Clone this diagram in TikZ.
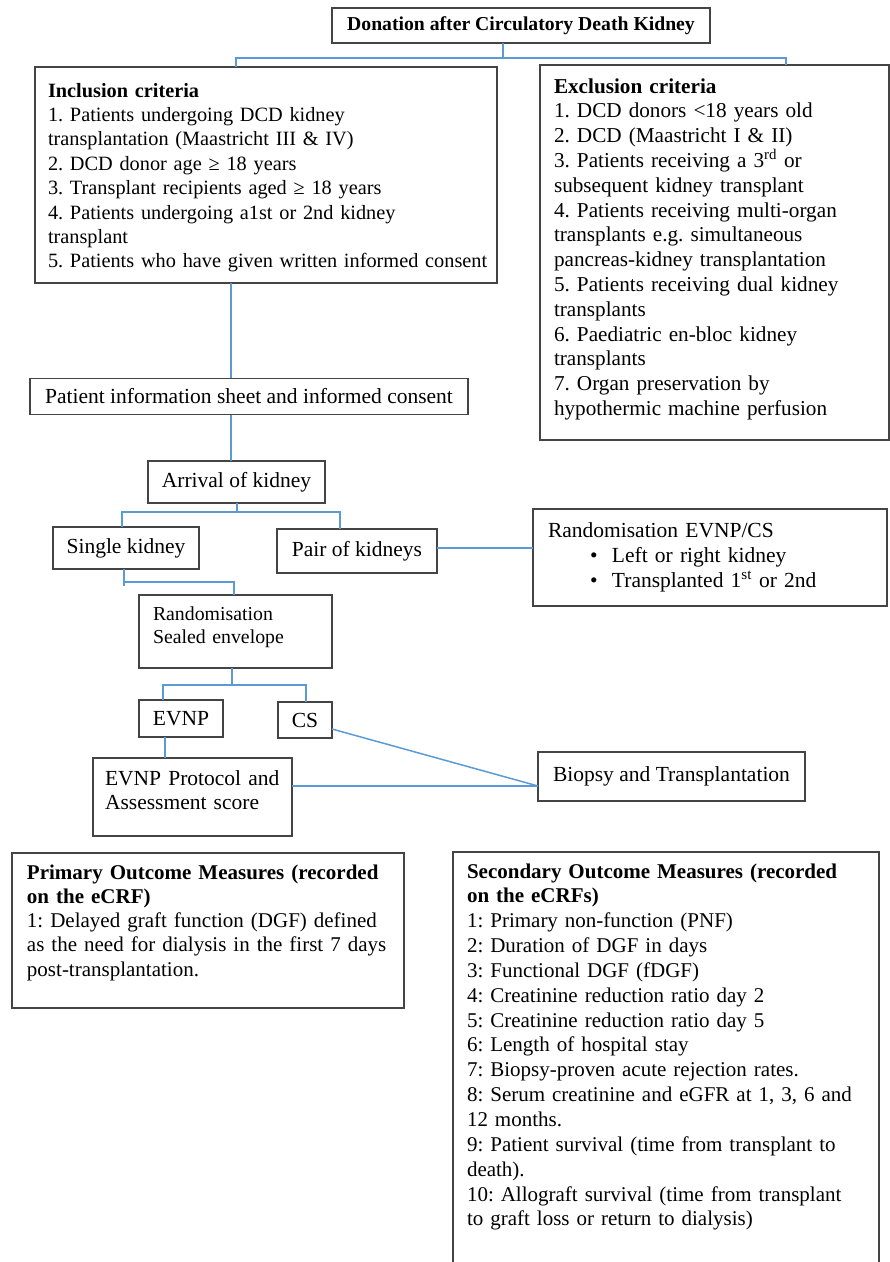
\documentclass[tikz,border=0pt]{standalone}
\usepackage{fontspec}
\setmainfont{Liberation Serif}
\definecolor{boxgray}{RGB}{68,68,68}
\definecolor{linkblue}{RGB}{91,155,213}
\tikzset{box/.style={draw=boxgray,line width=1.3pt,outer sep=0pt,inner ysep=0pt,anchor=north west}}
\tikzset{openbox/.style={box,draw=none}}
\tikzset{onebox/.style={draw=boxgray,line width=1.3pt,outer sep=0pt,inner sep=0pt}}
\tikzset{body/.style={font=\fontsize{21.5}{24.7}\selectfont}}
\tikzset{link/.style={linkblue,line width=1.5pt}}

\begin{document}
\frenchspacing
\begin{tikzpicture}[x=1pt,y=-1pt]
\useasboundingbox (0,0) rectangle (890,1262);

\node [onebox,minimum width=378,minimum height=35,font=\bfseries\fontsize{19.7}{22}\selectfont] (donation) at (521,25.5) {Donation after Circulatory Death Kidney};

\node [box,font=\fontsize{20.3}{24.4}\selectfont,text width=436,inner xsep=13,text height=30,text depth=186] (incl) at (35,67) {\textbf{Inclusion criteria}\\
1. Patients undergoing DCD kidney\\
transplantation (Maastricht III \& IV)\\
2. DCD donor age ≥ 18 years\\
3. Transplant recipients aged ≥ 18 years\\
4. Patients undergoing a1st or 2nd kidney\\
transplant\\
\mbox{5. Patients who have given written informed consent}};

\node [box,font=\fontsize{21.2}{24.8}\selectfont,text width=321,inner xsep=14,text height=28,text depth=347] (excl) at (540,65) {\textbf{Exclusion criteria}\\
1. DCD donors <18 years old\\
2. DCD (Maastricht I \& II)\\
3. Patients receiving a 3\textsuperscript{rd} or\\
subsequent kidney transplant\\
4. Patients receiving multi-organ\\
transplants e.g. simultaneous\\
pancreas-kidney transplantation\\
5. Patients receiving dual kidney\\
transplants\\
6. Paediatric en-bloc kidney\\
transplants\\
7. Organ preservation by\\
hypothermic machine perfusion};

\node [onebox,body,minimum width=438,minimum height=36.5] (patient) at (249,396.5) {Patient information sheet and informed consent};
\node [onebox,body,minimum width=177,minimum height=42] (arrival) at (236.5,482) {Arrival of kidney};
\node [onebox,body,minimum width=146,minimum height=42] (single) at (126,548) {Single kidney};
\node [onebox,body,minimum width=160,minimum height=44] (pair) at (357,551) {Pair of kidneys};

\node [box,font=\fontsize{21.5}{25}\selectfont,text width=324,inner xsep=15,text height=28,text depth=69] (randpair) at (533,509) {Randomisation EVNP/CS\\
\hspace*{42pt}\makebox[22pt][l]{\textbullet}Left or right kidney\\
\hspace*{42pt}\makebox[22pt][l]{\textbullet}Transplanted 1\textsuperscript{st} or 2nd};

\node [box,font=\fontsize{19.8}{23}\selectfont,text width=165,inner xsep=14,text height=25,text depth=48] (rand) at (139,595) {Randomisation\\
Sealed envelope};

\node [onebox,body,minimum width=84,minimum height=37] (evnp) at (181,718.5) {EVNP};
\node [onebox,body,minimum width=54,minimum height=36] (cs) at (305,720) {CS};
\node [box,body,text width=175,inner xsep=12,text height=27,text depth=51] (protocol) at (93,758) {EVNP Protocol and\\
Assessment score};
\node [onebox,body,minimum width=267,minimum height=49] (biopsy) at (671.5,776.5) {Biopsy and Transplantation};

\node [box,font=\fontsize{21}{24.3}\selectfont,text width=362,inner xsep=15,text height=26,text depth=129] (primary) at (12,853) {\textbf{Primary Outcome Measures (recorded}\\
\textbf{on the eCRF)}\\
1: Delayed graft function (DGF) defined\\
\mbox{as the need for dialysis in the first 7 days}\\
post-transplantation.};

\node [openbox,font=\fontsize{21}{24.85}\selectfont,text width=398,inner xsep=14,text height=26,text depth=384] (secondary) at (453,852) {\textbf{Secondary Outcome Measures (recorded}\\
\textbf{on the eCRFs)}\\
1: Primary non-function (PNF)\\
2: Duration of DGF in days\\
3: Functional DGF (fDGF)\\
4: Creatinine reduction ratio day 2\\
5: Creatinine reduction ratio day 5\\
6: Length of hospital stay\\
7: Biopsy-proven acute rejection rates.\\
8: Serum creatinine and eGFR at 1, 3, 6 and\\
12 months.\\
9: Patient survival (time from transplant to\\
death).\\
10: Allograft survival (time from transplant\\
to graft loss or return to dialysis)};
\draw [draw=boxgray,line width=1.3pt] (secondary.south west) |- (secondary.north east) -- (secondary.south east);

\coordinate (d1) at (503,58);
\coordinate (d1l) at (236,58);
\coordinate (d1r) at (786,58);
\coordinate (trunk) at (231,340);
\coordinate (d2) at (237,512);
\coordinate (d2l) at (122,512);
\coordinate (d2r) at (340,512);
\coordinate (d3) at (124,582);
\coordinate (d3r) at (234,582);
\coordinate (d4) at (232,685);
\coordinate (d4l) at (163,685);
\coordinate (d4r) at (306,685);
\coordinate (d5) at (165,747);
\coordinate (bin) at (538,786);

\draw [link] (donation.south -| d1) -- (d1);
\draw [link] (incl.north -| d1l) -- (d1l) -- (d1r) -- (excl.north -| d1r);
\draw [link] (incl.south -| trunk) -- (patient.north -| trunk);
\draw [link] (patient.south -| trunk) -- (arrival.north -| trunk);
\draw [link] (arrival.south -| d2) -- (d2);
\draw [link] (single.north -| d2l) -- (d2l) -- (d2r) -- (pair.north -| d2r);
\draw [link] ([yshift=3pt]pair.east) -- ([yshift=3pt]pair.east -| randpair.west);
\draw [link] (single.south -| d3) -- ++(0,17);
\draw [link] (d3) -- (d3r) -- (rand.north -| d3r);
\draw [link] (rand.south -| d4) -- (d4);
\draw [link] (evnp.north -| d4l) -- (d4l) -- (d4r) -- (cs.north -| d4r);
\draw [link] (evnp.south -| d5) -- (protocol.north -| d5);
\draw [link] ([yshift=-9pt]cs.east) -- (bin);
\draw [link] ([yshift=11pt]protocol.east) -- (bin);
\end{tikzpicture}
\end{document}
